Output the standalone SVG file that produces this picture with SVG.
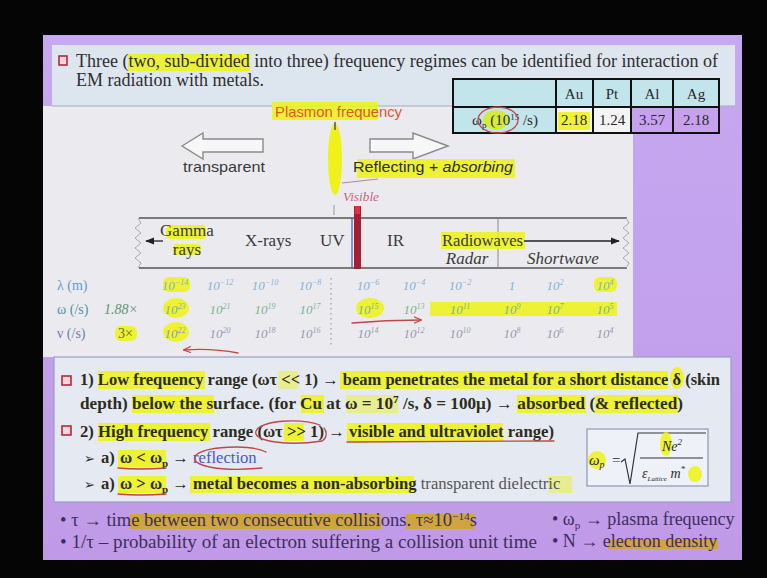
<svg xmlns="http://www.w3.org/2000/svg" width="767" height="578" viewBox="0 0 767 578">
<defs>
<style>
.serif{font-family:"Liberation Serif","Times New Roman","DejaVu Serif",serif}
.sans{font-family:"Liberation Sans",Arial,sans-serif}
.title{font-family:"Liberation Serif","Times New Roman",serif;font-size:18px;fill:#2e2e2e}
.body{font-family:"Liberation Serif","Times New Roman","DejaVu Sans",serif;font-size:16.6px;font-weight:bold;fill:#2c2c1e}
.foot{font-family:"Liberation Serif","Times New Roman","DejaVu Sans",serif;font-size:18px;fill:#3e2f5c}
.hl{fill:#eef21a;opacity:0.88}
.hlp{fill:#eef21a;opacity:0.45}
.hlo{fill:#d2a52c;opacity:0.9}
.chk{fill:#f8d6da;stroke:#b22a3a;stroke-width:1.6}
.spec{font-family:"Liberation Serif","Times New Roman",serif;font-size:17px;fill:#3a3a3a}
.v{font-family:"Liberation Serif","Times New Roman",serif;font-style:italic;font-size:13px;text-anchor:middle}
.vl{fill:#86b2d6}
.vw{fill:#7fb294}
.vn{fill:#959bb2}
.cell{font-family:"Liberation Serif","Times New Roman",serif;font-size:15px;fill:#2a2a2a;text-anchor:middle}
.ink{fill:none;stroke:#c04848;stroke-width:1.3;stroke-linecap:round}
.hollow{fill:#f7f7f7;stroke:#8a8a8a;stroke-width:1.4}
</style>
<linearGradient id="purp" x1="0" y1="0" x2="0" y2="1">
<stop offset="0" stop-color="#c6a9f0"/>
<stop offset="1" stop-color="#c09ae8"/>
</linearGradient>
<marker id="tri" viewBox="0 0 10 10" refX="9" refY="5" markerWidth="7" markerHeight="7" orient="auto"><path d="M0,1 L10,5 L0,9 z" fill="#222"/></marker>
<marker id="redtip" viewBox="0 0 10 10" refX="9" refY="5" markerWidth="6" markerHeight="6" orient="auto"><path d="M0,1 L10,5 L0,9" fill="none" stroke="#c04848" stroke-width="1.5"/></marker>
</defs>

<rect width="767" height="578" fill="#050505"/>
<g id="slide">
<rect x="43" y="35" width="699" height="525" fill="url(#purp)"/>
<rect x="52" y="45" width="683" height="61" fill="#dde6ef"/>
<rect x="43" y="106" width="590" height="251" fill="#ebebef"/>
<line x1="52" y1="106" x2="735" y2="106" stroke="#a4acbc" stroke-width="1.2"/>
<rect x="54" y="357" width="677" height="145" fill="#e4e9f2" stroke="#96a0c0" stroke-width="1.2"/>
</g>

<g id="title">
<rect class="chk" x="59" y="56" width="8" height="9"/>
<rect class="hl" x="128" y="54" width="122" height="17"/>
<text class="title" x="76" y="67" textLength="642" lengthAdjust="spacingAndGlyphs">Three (two, sub-divided into three) frequency regimes can be identified for interaction of</text>
<text class="title" x="76" y="86">EM radiation with metals.</text>
</g>

<g id="table">
<rect x="453" y="79" width="266" height="28" fill="#c2e5ec"/>
<rect x="453" y="107" width="103" height="26" fill="#c2e5ec"/>
<rect x="556" y="107" width="75" height="26" fill="#f4f4f4"/>
<rect x="631" y="107" width="88" height="26" fill="#c6a2ee"/>
<rect class="hl" x="558" y="112" width="32" height="18"/>
<ellipse cx="496" cy="120" rx="13" ry="10" fill="#d6ea2a" opacity="0.9"/>
<g fill="none" stroke="#111" stroke-width="2">
<rect x="453" y="79" width="266" height="54"/>
<line x1="453" y1="107" x2="719" y2="107"/>
<line x1="556" y1="79" x2="556" y2="133"/>
<line x1="593" y1="79" x2="593" y2="133"/>
<line x1="631" y1="79" x2="631" y2="133"/>
<line x1="673" y1="79" x2="673" y2="133"/>
</g>
<text class="cell" x="574" y="99">Au</text>
<text class="cell" x="612" y="99">Pt</text>
<text class="cell" x="652" y="99">Al</text>
<text class="cell" x="696" y="99">Ag</text>
<text class="cell" x="505" y="125" font-size="13">ω<tspan dy="3" font-size="9">p</tspan><tspan dy="-3"> (10</tspan><tspan dy="-5" font-size="9">15</tspan><tspan dy="5"> /s)</tspan></text>
<text class="cell" x="574" y="125">2.18</text>
<text class="cell" x="612" y="125">1.24</text>
<text class="cell" x="652" y="125">3.57</text>
<text class="cell" x="696" y="125">2.18</text>
<ellipse cx="498" cy="120" rx="20" ry="13" fill="none" stroke="#b84a4a" stroke-width="1.3"/>
</g>

<g id="regimes">
<rect class="hl" x="272" y="102" width="106" height="18" opacity="0.7"/>
<text class="sans" x="275" y="117" font-size="15" fill="#e0562c" textLength="127" lengthAdjust="spacingAndGlyphs">Plasmon frequency</text>
<ellipse cx="335" cy="159" rx="7" ry="36" fill="#eef21a"/>
<line x1="335" y1="122" x2="335" y2="130" stroke="#555" stroke-width="1.5"/>
<polygon class="hollow" points="182,146 203,133 203,139 263,139 263,152 203,152 203,159"/>
<polygon class="hollow" points="448,146 413,133 413,139 370,139 370,152 413,152 413,159"/>
<text class="sans" x="183" y="172" font-size="15" fill="#3a3a3a" textLength="82" lengthAdjust="spacingAndGlyphs">transparent</text>
<rect class="hl" x="357" y="159" width="158" height="19"/>
<text class="sans" x="353" y="172" font-size="15" fill="#2e2e2e" textLength="160" lengthAdjust="spacingAndGlyphs">Reflecting<tspan font-style="italic"> + absorbing</tspan></text>
<path d="M342,183 L378,179" stroke="#b08a96" stroke-width="1" fill="none"/>
<text class="serif" x="343" y="201" font-size="12" font-style="italic" fill="#d0607a" textLength="36" lengthAdjust="spacingAndGlyphs">Visible</text>
</g>

<g id="spectrum">
<line x1="334" y1="205" x2="334" y2="215" stroke="#999" stroke-width="1"/>
<line x1="139" y1="218" x2="627" y2="218" stroke="#555" stroke-width="1.5"/>
<line x1="139" y1="268" x2="627" y2="268" stroke="#555" stroke-width="1.5"/>
<polyline points="138,218 141,223 135,228 141,233 135,238 141,243 135,248 141,253 135,258 141,263 138,268" fill="none" stroke="#aaa" stroke-width="1"/>
<polyline points="626,218 629,223 623,228 629,233 623,238 629,243 623,248 629,253 623,258 629,263 626,268" fill="none" stroke="#aaa" stroke-width="1"/>
<line x1="498" y1="218" x2="498" y2="268" stroke="#888" stroke-width="1"/>
<line x1="352" y1="218" x2="352" y2="268" stroke="#4058c0" stroke-width="1.2"/>
<rect x="354" y="206" width="7" height="63" fill="#a41f30"/>
<rect x="355" y="206" width="5" height="8" fill="#e03040"/>
<rect class="hl" x="166" y="225" width="40" height="14" rx="4"/>
<rect class="hl" x="173" y="244" width="28" height="11" rx="4" opacity="0.6"/>
<text class="spec" x="187" y="236" font-size="13" text-anchor="middle">Gamma</text>
<text class="spec" x="187" y="255" font-size="12" text-anchor="middle">rays</text>
<text class="spec" x="245" y="246">X-rays</text>
<text class="spec" x="320" y="246">UV</text>
<text class="spec" x="387" y="246">IR</text>
<rect class="hl" x="441" y="232" width="84" height="17"/>
<text class="spec" x="442" y="246" textLength="81" lengthAdjust="spacingAndGlyphs">Radiowaves</text>
<text class="spec" x="467" y="264" font-size="13" font-style="italic" text-anchor="middle">Radar</text>
<text class="spec" x="563" y="264" font-size="13" font-style="italic" text-anchor="middle">Shortwave</text>
</g>

<g id="rows">
<rect class="hl" x="163" y="277" width="27" height="15" rx="6"/>
<rect class="hl" x="594" y="277" width="23" height="15" rx="6"/>
<ellipse class="hl" cx="176" cy="308" rx="13" ry="10"/>
<ellipse class="hl" cx="370" cy="308" rx="14" ry="10"/>
<rect class="hl" x="430" y="302" width="187" height="14"/>
<rect class="hl" x="115" y="326" width="22" height="15" rx="6"/>
<ellipse class="hl" cx="176" cy="332" rx="13" ry="10"/>
<line x1="331" y1="278" x2="331" y2="346" stroke="#999" stroke-width="1.2" stroke-dasharray="1.5 3.5"/>
<text class="serif" x="57" y="290" font-size="14" fill="#5f9dcb">λ (m)</text>
<text class="serif" x="57" y="314" font-size="14" fill="#4f93a0">ω (/s)</text>
<text class="serif" x="104" y="314" font-size="14" font-style="italic" fill="#5e9274">1.88×</text>
<text class="serif" x="57" y="338" font-size="14" fill="#6f7fae">ν (/s)</text>
<text class="serif" x="118" y="338" font-size="14" fill="#6a6a3a">3×</text>

<text class="v vl" x="175" y="290">10<tspan dy="-5" font-size="8">−14</tspan></text>
<text class="v vl" x="220" y="290">10<tspan dy="-5" font-size="8">−12</tspan></text>
<text class="v vl" x="265" y="290">10<tspan dy="-5" font-size="8">−10</tspan></text>
<text class="v vl" x="310" y="290">10<tspan dy="-5" font-size="8">−8</tspan></text>
<text class="v vl" x="368" y="290">10<tspan dy="-5" font-size="8">−6</tspan></text>
<text class="v vl" x="414" y="290">10<tspan dy="-5" font-size="8">−4</tspan></text>
<text class="v vl" x="460" y="290">10<tspan dy="-5" font-size="8">−2</tspan></text>
<text class="v vl" x="512" y="290">1</text>
<text class="v vl" x="555" y="290">10<tspan dy="-5" font-size="8">2</tspan></text>
<text class="v vl" x="605" y="290">10<tspan dy="-5" font-size="8">4</tspan></text>

<text class="v vw" x="175" y="314">10<tspan dy="-5" font-size="8">23</tspan></text>
<text class="v vw" x="220" y="314">10<tspan dy="-5" font-size="8">21</tspan></text>
<text class="v vw" x="265" y="314">10<tspan dy="-5" font-size="8">19</tspan></text>
<text class="v vw" x="310" y="314">10<tspan dy="-5" font-size="8">17</tspan></text>
<text class="v vw" x="368" y="314">10<tspan dy="-5" font-size="8">15</tspan></text>
<text class="v vw" x="414" y="314">10<tspan dy="-5" font-size="8">13</tspan></text>
<text class="v vw" x="460" y="314">10<tspan dy="-5" font-size="8">11</tspan></text>
<text class="v vw" x="512" y="314">10<tspan dy="-5" font-size="8">9</tspan></text>
<text class="v vw" x="555" y="314">10<tspan dy="-5" font-size="8">7</tspan></text>
<text class="v vw" x="605" y="314">10<tspan dy="-5" font-size="8">5</tspan></text>

<text class="v vn" x="175" y="338">10<tspan dy="-5" font-size="8">22</tspan></text>
<text class="v vn" x="220" y="338">10<tspan dy="-5" font-size="8">20</tspan></text>
<text class="v vn" x="265" y="338">10<tspan dy="-5" font-size="8">18</tspan></text>
<text class="v vn" x="310" y="338">10<tspan dy="-5" font-size="8">16</tspan></text>
<text class="v vn" x="368" y="338">10<tspan dy="-5" font-size="8">14</tspan></text>
<text class="v vn" x="414" y="338">10<tspan dy="-5" font-size="8">12</tspan></text>
<text class="v vn" x="460" y="338">10<tspan dy="-5" font-size="8">10</tspan></text>
<text class="v vn" x="512" y="338">10<tspan dy="-5" font-size="8">8</tspan></text>
<text class="v vn" x="555" y="338">10<tspan dy="-5" font-size="8">6</tspan></text>
<text class="v vn" x="605" y="338">10<tspan dy="-5" font-size="8">4</tspan></text>
</g>

<g id="connectors">
<line x1="163" y1="241" x2="146" y2="241" stroke="#222" stroke-width="1.3" marker-end="url(#tri)"/>
<line x1="524" y1="241" x2="619" y2="241" stroke="#222" stroke-width="1.3" marker-end="url(#tri)"/>
<path class="ink" d="M352,323 Q386,320 421,320" marker-end="url(#redtip)"/>
<path class="ink" d="M238,353 Q212,348 184,350" marker-end="url(#redtip)"/>
</g>

<g id="regimes-text">
<rect class="chk" x="62" y="376" width="9" height="9"/>
<rect class="hl" x="98" y="371" width="107" height="18"/>
<rect class="hlp" x="278" y="371" width="20" height="18"/>
<rect class="hl" x="340" y="371" width="328" height="18"/>
<ellipse class="hl" cx="677" cy="378" rx="7" ry="11"/>
<text class="body" x="80" y="385" textLength="640" lengthAdjust="spacingAndGlyphs">1) Low frequency range (ωτ &lt;&lt; 1) → beam penetrates the metal for a short distance δ (skin</text>

<rect class="hl" x="132" y="395" width="82" height="18"/>
<rect class="hl" x="301" y="395" width="23" height="18"/>
<rect class="hlp" x="346" y="395" width="52" height="18"/>
<rect class="hl" x="517" y="395" width="69" height="18"/>
<rect class="hl" x="595" y="395" width="83" height="18"/>
<text class="body" x="80" y="409" textLength="603" lengthAdjust="spacingAndGlyphs">depth) below the surface. (for Cu at ω = 10<tspan dy="-6" font-size="11">7</tspan><tspan dy="6"> /s, δ = 100μ) → absorbed (&amp; reflected)</tspan></text>

<rect class="chk" x="62" y="426" width="9" height="9"/>
<rect class="hl" x="98" y="423" width="112" height="18"/>
<rect class="hl" x="284" y="423" width="20" height="18"/>
<rect class="hl" x="347" y="423" width="156" height="18"/>
<text class="body" x="80" y="437" textLength="474" lengthAdjust="spacingAndGlyphs">2) High frequency range (ωτ &gt;&gt; 1) → visible and ultraviolet range)</text>
<path class="ink" d="M320,425 C300,418 262,420 256,431 C252,442 290,446 322,441 C326,439 328,433 324,428" stroke="#b04848"/>
<path class="ink" d="M347,442 L554,441" stroke="#a04848" stroke-width="1"/>

<rect class="hl" x="118" y="450" width="48" height="17"/>
<text class="body" y="463"><tspan x="84" font-size="13" font-weight="normal" font-family="DejaVu Sans">➢</tspan><tspan x="101">a)</tspan><tspan x="120">ω &lt; ω</tspan><tspan dy="4" font-size="11">p</tspan><tspan dy="-4"> → </tspan><tspan fill="#4a5ac8" font-weight="normal">reflection</tspan></text>
<path class="ink" d="M118,468 Q140,470 166,468" stroke="#a04848" stroke-width="1"/>
<path class="ink" d="M266,452 C250,444 204,446 195,456 C190,466 220,472 262,468" stroke="#8a4a80" stroke-width="1.2"/>

<rect class="hl" x="118" y="476" width="48" height="17"/>
<rect class="hl" x="190" y="476" width="224" height="17"/>
<rect class="hlp" x="548" y="476" width="24" height="17"/>
<text class="body" y="489"><tspan x="84" font-size="13" font-weight="normal" font-family="DejaVu Sans">➢</tspan><tspan x="101">a)</tspan><tspan x="120">ω &gt; ω</tspan><tspan dy="4" font-size="11">p</tspan><tspan dy="-4"> → metal becomes a non-absorbing</tspan><tspan fill="#555555" font-weight="normal"> transparent dielectric</tspan></text>
<path class="ink" d="M118,494 Q140,496 166,494" stroke="#a04848" stroke-width="1"/>
</g>

<g id="formula">
<rect x="587" y="429" width="121" height="57" fill="#eef1f7" stroke="#8e98b6" stroke-width="1.2"/>
<ellipse class="hl" cx="597" cy="460" rx="9" ry="9"/>
<text class="serif" x="589" y="465" font-size="15" font-style="italic" fill="#2a2a2a">ω<tspan dy="3" font-size="10">p</tspan></text>
<text class="serif" x="612" y="465" font-size="15" fill="#2a2a2a">=</text>
<path d="M621,462 L625,459 L630,484 L638,433 L706,433" fill="none" stroke="#333" stroke-width="1.2"/>
<ellipse class="hl" cx="666" cy="444" rx="6" ry="12"/>
<text class="serif" x="662" y="451" font-size="14" font-style="italic" fill="#2a2a2a">Ne<tspan dy="-6" font-size="9">2</tspan></text>
<line x1="640" y1="458" x2="703" y2="458" stroke="#333" stroke-width="1.2"/>
<ellipse class="hl" cx="695" cy="474" rx="7" ry="8"/>
<text class="serif" x="642" y="478" font-size="14" font-style="italic" fill="#2a2a2a">ε<tspan dy="3" font-size="7">Lattice</tspan><tspan dy="-3"> m</tspan><tspan dy="-6" font-size="9">*</tspan></text>
</g>

<g id="footnotes">
<rect class="hlo" x="130" y="514" width="251" height="15"/>
<rect class="hlo" x="406" y="514" width="68" height="15"/>
<text class="foot" x="60" y="526" textLength="417" lengthAdjust="spacingAndGlyphs">• τ → time between two consecutive collisions. τ≈10<tspan dy="-6" font-size="11">−14</tspan><tspan dy="6">s</tspan></text>
<text class="foot" x="60" y="548" textLength="477" lengthAdjust="spacingAndGlyphs">• 1/τ – probability of an electron suffering a collision unit time</text>
<text class="foot" x="552" y="525" font-size="16">• ω<tspan dy="4" font-size="11">p</tspan><tspan dy="-4"> → plasma frequency</tspan></text>
<rect class="hlo" x="608" y="539" width="110" height="10"/>
<text class="foot" x="552" y="547" font-size="16">• N → electron density</text>
</g>
</svg>
